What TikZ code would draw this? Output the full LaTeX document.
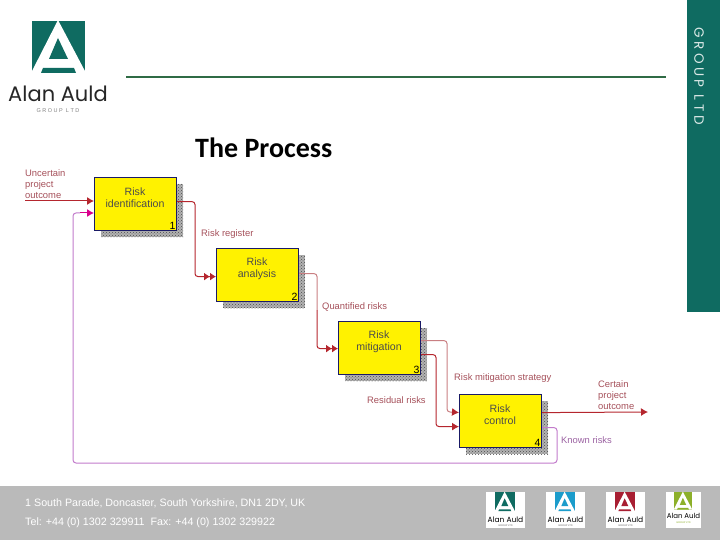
\documentclass[tikz,border=0pt]{standalone}
\usepackage{fontspec}
\setmainfont{Liberation Sans}
\newfontfamily\titlefont{Carlito}
\newfontfamily\logofont{Poppins}
\usetikzlibrary{arrows.meta,patterns}
\definecolor{auldteal}{HTML}{0F6B61}
\definecolor{auldline}{HTML}{2F6B45}
\definecolor{auldblue}{HTML}{1B9CCB}
\definecolor{auldred}{HTML}{A81E32}
\definecolor{auldgreen}{HTML}{8DB02A}
\definecolor{flowred}{HTML}{B5262E}
\definecolor{flowpale}{HTML}{C97F82}
\definecolor{flowpurple}{HTML}{C27BCB}
\definecolor{flowtext}{HTML}{A5505A}
\definecolor{boxblue}{HTML}{1A1A66}
\tikzset{
  riskbox/.style={draw=boxblue,line width=1.2pt,fill=yellow,minimum width=82pt,minimum height=53pt,inner sep=0pt,anchor=north west},
  shadowbox/.style={preaction={fill=black!30},pattern=crosshatch dots,pattern color=black!70},
  boxlabel/.style={font=\fontsize{10.6}{12}\selectfont,text=black!70,align=center},
  flowlabel/.style={font=\fontsize{9.4}{11}\selectfont,text=flowtext,align=left,inner sep=0pt},
  flow/.style={flowred,line width=1pt,rounded corners=3pt},
  paleflow/.style={flowpale,line width=1pt,rounded corners=3pt},
  backflow/.style={flowpurple,line width=1pt,rounded corners=3pt},
  headone/.style={-{Latex[length=7pt,width=8pt]}},
  headtwo/.style={-{Latex[length=6pt,width=8pt]Latex[length=6pt,width=8pt]}},
}
% #1 corner, #2 scale, #3 colour
\newcommand{\auldmark}[3]{
  \begin{scope}[shift={(#1)},scale=#2]
    \fill[#3] (0,0) rectangle (53,52);
    \fill[white] (26,-1) -- (-1,52) -- (54,52) -- cycle;
    \fill[#3] (26,17) -- (17,38) -- (36,38) -- cycle;
    \fill[#3] (11,47) -- (42,47) -- (44,52) -- (9,52) -- cycle;
  \end{scope}
}
\begin{document}
\begin{tikzpicture}[x=1pt,y=-1pt]
\useasboundingbox (0,0) rectangle (720,540);

% Bands and rule
\fill[auldteal] (687,0) rectangle (720,312);
\fill[black!27] (0,486) rectangle (720,540);
\draw[auldline,line width=1.5pt] (126,77) -- (666,77);
\node[rotate=-90,font=\logofont\fontsize{13.5}{14}\selectfont,text=white!85!auldteal] (grouptag) at (699,76) {G R O U P \ L T D};

% Main logo
\auldmark{32,21}{1}{auldteal}
\node[font=\logofont\fontsize{21}{24}\selectfont,text=black!85,inner sep=0pt,text height=15pt,text depth=1pt,anchor=base] (logoname) at (58,102) {Alan Auld};
\node[font=\fontsize{5.5}{6}\selectfont,text=black!50,inner sep=0pt] (logosub) at (58,110.5) {G R O U P \ L T D};

\node[font=\titlefont\bfseries\fontsize{28}{30}\selectfont,inner sep=0pt,anchor=west] (title) at (195,148) {The Process};

% Footer
\node[font=\fontsize{10.7}{12}\selectfont,text=white,inner sep=0pt,anchor=west] (address) at (25,503) {1 South Parade, Doncaster, South Yorkshire, DN1 2DY, UK};
\node[font=\fontsize{10.7}{12}\selectfont,text=white,inner sep=0pt,anchor=west] (phone) at (25,523) {Tel: +44 (0) 1302 329911 \ Fax: +44 (0) 1302 329922};

% Small logos
\foreach \x/\c in {486/auldteal,546/auldblue,606/auldred} {
  \fill[white] (\x,492) rectangle (\x+39,528);
  \auldmark{\x+9,492}{0.37}{\c}
  \node[font=\logofont\fontsize{7.5}{8}\selectfont,inner sep=0pt] at (\x+19.5,520) {Alan Auld};
  \node[font=\fontsize{2.5}{3}\selectfont,text=black!60,inner sep=0pt] at (\x+19.5,526) {GROUP LTD};
}
\fill[white] (666,492) rectangle (701,528);
\auldmark{674,492}{0.34}{auldgreen}
\node[font=\logofont\fontsize{7}{8}\selectfont,inner sep=0pt] at (683.5,516) {Alan Auld};
\node[font=\fontsize{2.5}{3}\selectfont,text=auldgreen,inner sep=0pt] at (683.5,523) {GROUP LTD};

% Process boxes
\foreach \name/\x/\y/\txt/\n in {riskid/94/177/{Risk\\identification}/1,riskan/216/248/{Risk\\analysis}/2,riskmit/338/321/{Risk\\mitigation}/3,riskctl/459/394/{Risk\\control}/4} {
  \fill[shadowbox] (\x+7,\y+7) rectangle (\x+89,\y+60);
  \node[riskbox] (\name) at (\x,\y) {};
  \node[boxlabel] (\name text) at (\x+41,\y+21) {\txt};
  \node[font=\fontsize{10.5}{11}\selectfont,inner sep=1.5pt,anchor=south east] (\name num) at (\name.south east) {\n};
}

% Free ends
\coordinate (inflow) at (25,201);
\coordinate (outflow) at (648,412);

% Connectors
\draw[flow,headone] (inflow) -- (inflow -| riskid.west);
\draw[flow,headtwo] ([yshift=2.5pt]riskid.east) -| (195,240) |- ([yshift=-1.5pt]riskan.west);
\draw[paleflow] ([yshift=1.5pt]riskan.east) -| (317,310);
\draw[flow,headtwo] (317,310) |- ([yshift=-.5pt]riskmit.west);
\draw[paleflow] ([yshift=7.5pt]riskmit.east) -| (447,380) |- (452,412);
\draw[flow,headone] (452,412) -- ([yshift=8.5pt]riskctl.west);
\draw[flow,headone] ([yshift=-6.5pt]riskmit.east) -| (436,395) |- ([yshift=-5.5pt]riskctl.west);
\draw[flow,headone] ([yshift=8.5pt]riskctl.east) -- (outflow);
\draw[backflow] ([yshift=-6.5pt]riskctl.east) -| (557,463) -| (73,240) |- (80,213);
\draw[purple!60!magenta,line width=1pt,headone] (80,213) -- (riskid.west |- 80,213);

% Labels
\node[flowlabel,anchor=north west] (uncertain) at (25,169) {Uncertain\\project\\outcome};
\node[flowlabel,anchor=west] (register) at (201,234) {Risk register};
\node[flowlabel,anchor=west] (quantified) at (322,307) {Quantified risks};
\node[flowlabel,anchor=west] (strategy) at (454,378) {Risk mitigation strategy};
\node[flowlabel,anchor=west] (residual) at (367,400) {Residual risks};
\node[flowlabel,anchor=north west] (certain) at (598,380) {Certain\\project\\outcome};
\node[flowlabel,anchor=west,text=flowpurple!80!black] (known) at (561,440) {Known risks};

\end{tikzpicture}
\end{document}
